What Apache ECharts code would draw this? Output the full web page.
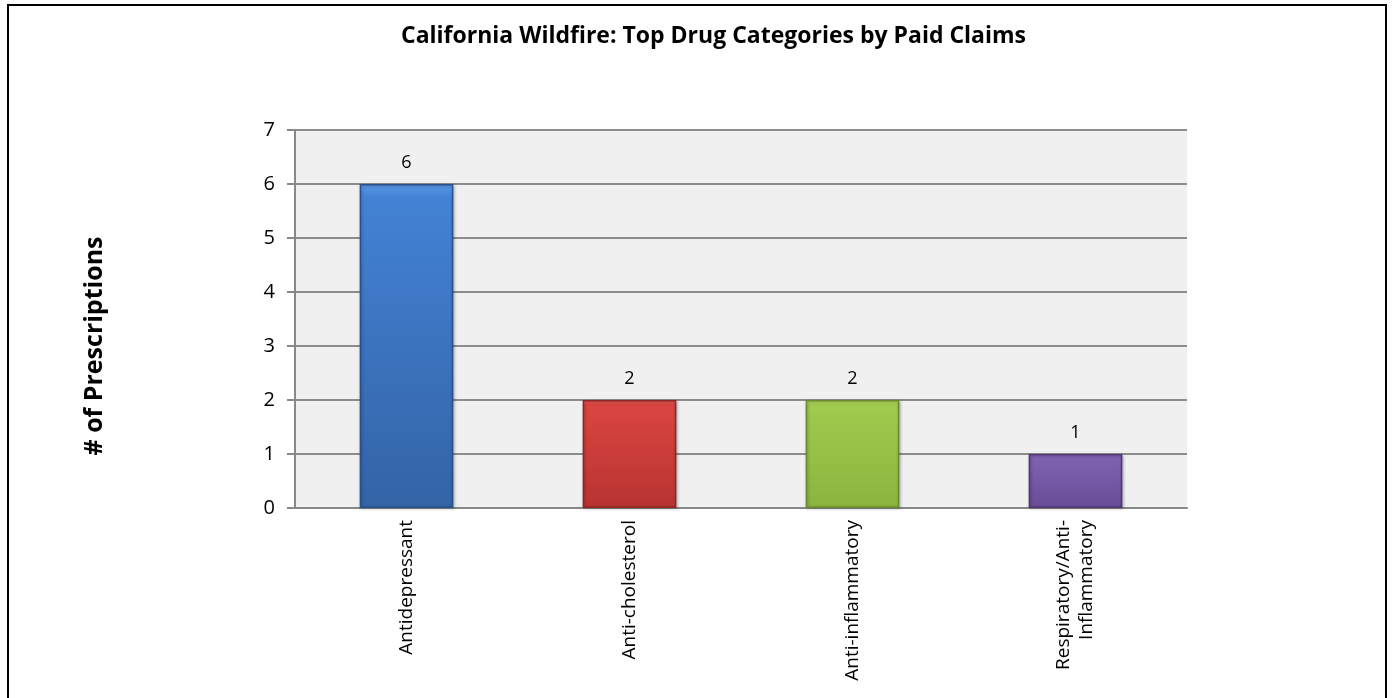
<!DOCTYPE html>
<html><head><meta charset="utf-8">
<script src="https://cdn.jsdelivr.net/npm/echarts@6/dist/echarts.min.js"></script>
<style>html,body{margin:0;padding:0;background:#fff}#c{width:1393px;height:698px}</style>
</head><body><div id="c"></div>
<script>
const categories = ['Antidepressant', 'Anti-cholesterol', 'Anti-inflammatory', 'Respiratory/Anti-\nInflammatory'];
const values = [6, 2, 2, 1];
const yAxisTitle = '# of Prescriptions';
const barColors = [
  ['#5b9ae6', '#4382d5', '#3463a6', '#27508c'],
  ['#ee6a66', '#da4542', '#b83330', '#8f2523'],
  ['#bde06a', '#a0cb4e', '#8bb43f', '#6a8a2e'],
  ['#a07fd0', '#8062b4', '#694c97', '#4f3775']
];
const yTicks = [0, 1, 2, 3, 4, 5, 6, 7];

const chart = echarts.init(document.getElementById('c'));
const font = 'Open Sans';
chart.setOption({
  animation: false,
  backgroundColor: '#ffffff',
  title: {
    text: 'California Wildfire: Top Drug Categories by Paid Claims',
    left: 396, top: 20,
    textStyle: { fontFamily: font, fontWeight: 'bold', fontSize: 23, color: '#000' }
  },
  graphic: [{
    type: 'rect', shape: { x: 8, y: 5, width: 1378, height: 720 },
    style: { fill: 'none', stroke: '#000', lineWidth: 2 }, silent: true
  }, {
    type: 'text', x: 95, y: 346, rotation: Math.PI / 2,
    style: { text: yAxisTitle, fontFamily: font, fontWeight: 'bold', fontSize: 25, fill: '#000',
      align: 'center', verticalAlign: 'middle' }, silent: true
  }],
  grid: { left: 295, right: 206, top: 130, bottom: 190, containLabel: false,
    show: true, backgroundColor: '#f0f0f0', borderWidth: 0 },
  xAxis: {
    type: 'category', data: categories,
    axisLine: { lineStyle: { color: '#888', width: 2 } },
    axisTick: { show: false },
    axisLabel: { rotate: 90, fontFamily: font, fontSize: 19, color: '#000', margin: 12, lineHeight: 23 }
  },
  yAxis: {
    type: 'value', min: 0, max: 7, interval: 1,
    axisLine: { show: true, lineStyle: { color: '#888', width: 2 } },
    axisTick: { show: true, length: 8, inside: false, lineStyle: { color: '#888', width: 2 } },
    axisLabel: { fontFamily: font, fontSize: 20, color: '#000', margin: 20,
      formatter: v => yTicks.includes(v) ? String(v) : '' },
    splitLine: { lineStyle: { color: '#8c8c8c', width: 2 } }
  },
  series: [{
    type: 'bar',
    barWidth: '42%',
    data: values.map((v, i) => ({
      value: v,
      itemStyle: {
        color: { type: 'linear', x: 0, y: 0, x2: 0, y2: 1, colorStops: [
          { offset: 0, color: barColors[i][0] },
          { offset: 0.04, color: barColors[i][1] },
          { offset: 1, color: barColors[i][2] }
        ] },
        borderColor: barColors[i][3], borderWidth: 1.5,
        shadowColor: 'rgba(0,0,0,0.25)', shadowBlur: 3, shadowOffsetX: 1, shadowOffsetY: 1
      }
    })),
    label: { show: true, position: 'top', distance: 12, fontFamily: font, fontSize: 18, color: '#000' }
  }]
});
</script></body></html>
